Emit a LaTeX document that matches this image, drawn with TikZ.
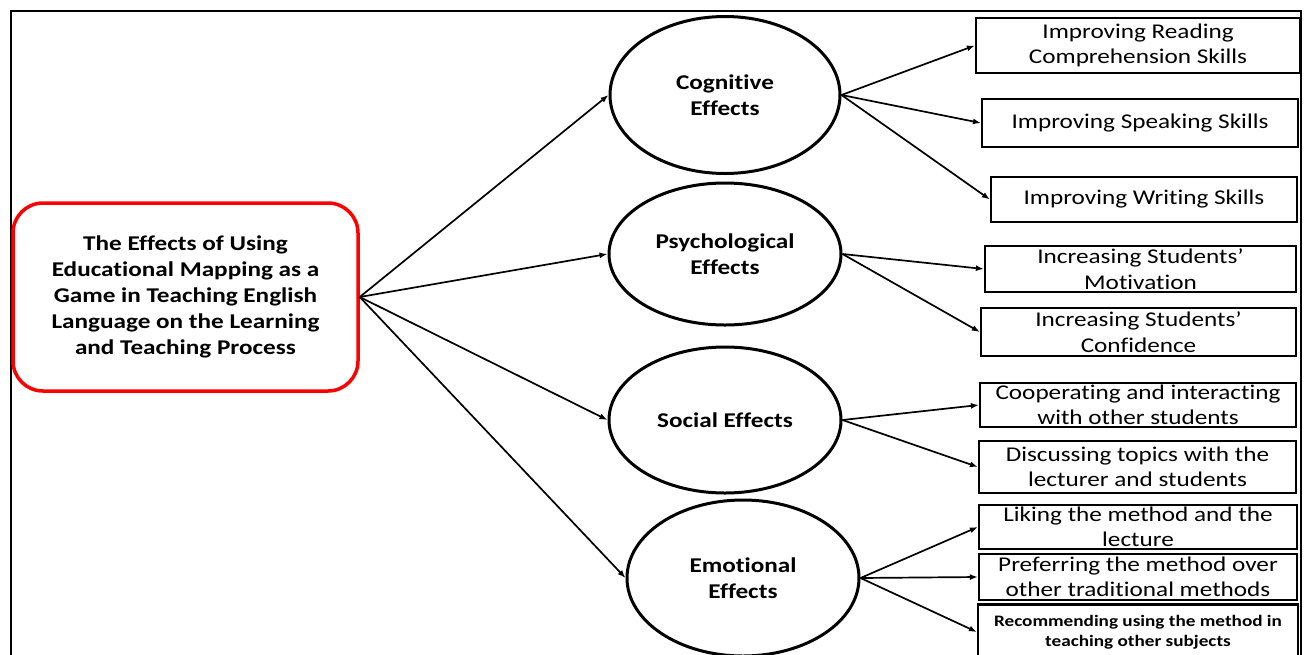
\documentclass[tikz,border=0pt]{standalone}
\usepackage{fontspec}
\setmainfont{Carlito}[FakeStretch=1.2, Ligatures=NoCommon]
\usetikzlibrary{arrows.meta, shapes.geometric}
\definecolor{mainred}{RGB}{255,0,0}
\definecolor{ink}{RGB}{0,0,0}

\begin{document}
\begin{tikzpicture}[x=1pt, y=-1pt,
  effect/.style={draw=ink, ellipse, line width=3pt, inner sep=0pt, align=center, font=\fontsize{21}{25.5}\selectfont\bfseries},
  outcome/.style={draw=ink, rectangle, line width=2.2pt, inner sep=0pt, align=center, font=\fontsize{21}{25.5}\selectfont},
  arr/.style={-{Latex[length=8pt,width=6pt]}, line width=1.7pt}]
  \clip (0,0) rectangle (1304,654);
  \fill[white] (0,0) rectangle (1304,654);
  % outer frame
  \draw[line width=1.6pt] (11,11) rectangle (1301,690);

  % main box
  \node[draw=mainred, line width=3.5pt, rounded corners=30pt, minimum width=345pt, minimum height=188pt,
        align=center, font=\fontsize{21}{26}\selectfont\bfseries] (main) at (185.5,297)
    {The Effects of Using\\Educational Mapping as a\\Game in Teaching English\\Language on the Learning\\and Teaching Process};

  % effects
  \node[effect, minimum width=230pt, minimum height=157pt] (cog) at (725,95) {Cognitive\\Effects};
  \node[effect, minimum width=232pt, minimum height=142pt] (psy) at (725,254) {Psychological\\Effects};
  \node[effect, minimum width=232pt, minimum height=146pt] (soc) at (725,420) {Social Effects};
  \node[effect, minimum width=232pt, minimum height=156pt] (emo) at (743,578) {Emotional\\Effects};

  % outcomes
  \node[outcome, minimum width=324pt, minimum height=55pt] (read) at (1138,45.5) {Improving Reading\\Comprehension Skills};
  \node[outcome, minimum width=316pt, minimum height=48pt] (speak) at (1140,123) {Improving Speaking Skills};
  \node[outcome, minimum width=306pt, minimum height=45pt] (write) at (1144,199.5) {Improving Writing Skills};
  \node[outcome, minimum width=311pt, minimum height=46pt] (motiv) at (1140.5,269) {Increasing Students’\\Motivation};
  \node[outcome, minimum width=315pt, minimum height=48pt] (conf) at (1138.5,332) {Increasing Students’\\Confidence};
  \node[outcome, minimum width=316pt, minimum height=44pt] (coop) at (1138,405) {Cooperating and interacting\\with other students};
  \node[outcome, minimum width=317pt, minimum height=52pt] (disc) at (1137.5,467) {Discussing topics with the\\lecturer and students};
  \node[outcome, minimum width=318pt, minimum height=44pt] (like) at (1138,527) {Liking the method and the\\lecture};
  \node[outcome, minimum width=318pt, minimum height=46pt] (pref) at (1138,577) {Preferring the method over\\other traditional methods};
  \node[outcome, minimum width=320pt, minimum height=55pt, font=\fontsize{16}{20.5}\selectfont\bfseries] (recom) at (1138,632)
    {Recommending using the method in\\teaching other subjects};

  % arrows
  \foreach \e in {cog,psy,soc,emo} \draw[arr] (main.east) -- (\e.west);
  \foreach \b in {read,speak,write} \draw[arr] (cog.east) -- (\b.west);
  \foreach \b in {motiv,conf} \draw[arr] (psy.east) -- (\b.west);
  \foreach \b in {coop,disc} \draw[arr] (soc.east) -- (\b.west);
  \foreach \b in {like,pref,recom} \draw[arr] (emo.east) -- (\b.west);
\end{tikzpicture}
\end{document}
